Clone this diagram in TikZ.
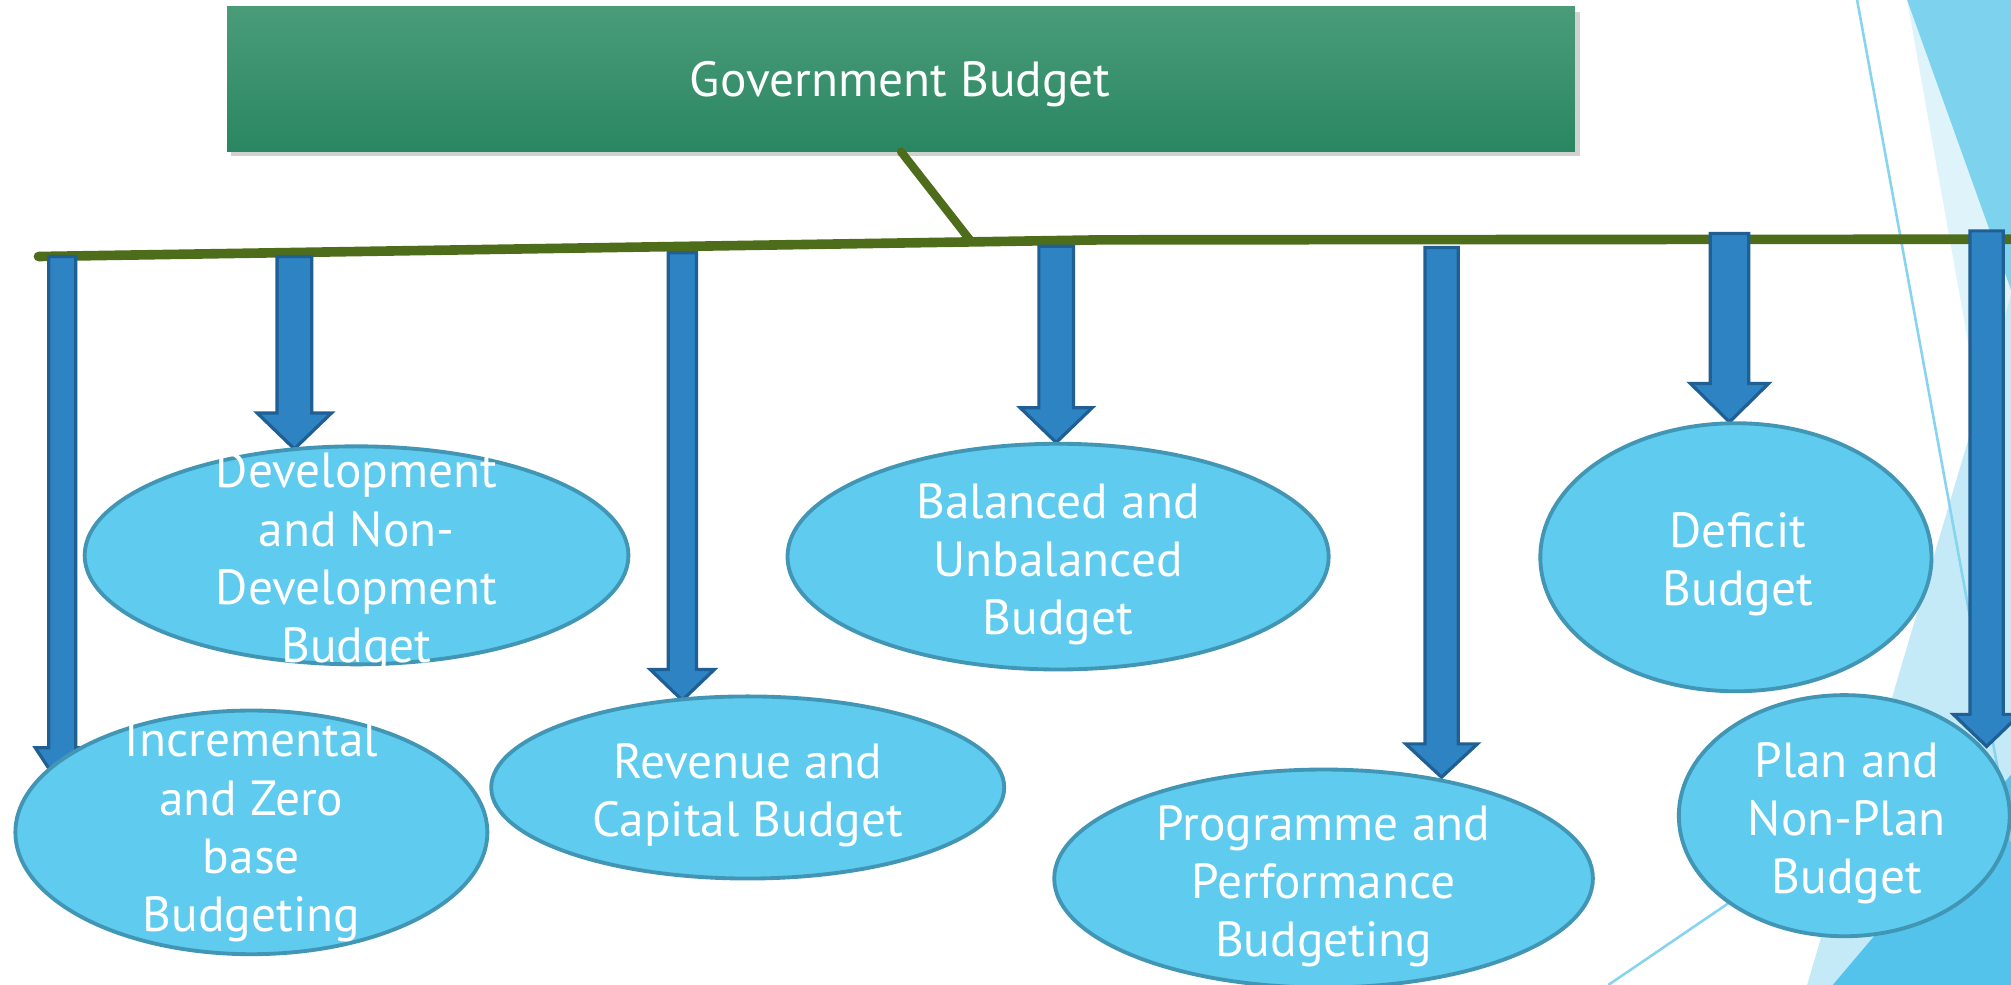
\documentclass[tikz,border=0pt]{standalone}
\usepackage{fontspec}
\setmainfont{PT Sans}
\usetikzlibrary{shapes.geometric}
\definecolor{boxtop}{HTML}{4A9C79}
\definecolor{boxbot}{HTML}{2A8662}
\definecolor{olive}{HTML}{4E6D1B}
\definecolor{arrfill}{HTML}{2E83C3}
\definecolor{arrline}{HTML}{1F5F94}
\definecolor{ellfill}{HTML}{5FCBEE}
\definecolor{ellline}{HTML}{4296B5}
\definecolor{bgpale}{HTML}{DFF3FA}
\definecolor{bgmed}{HTML}{7DD3EE}
\definecolor{bgwedge}{HTML}{C5EAF7}
\definecolor{bgdark}{HTML}{53C3EB}
\definecolor{bgline}{HTML}{86D4EF}
\tikzset{
  busline/.style={draw=olive, line width=7.5pt, line cap=round},
  blockarrow/.style={fill=arrfill, draw=arrline, line width=2.5pt, line join=miter},
  bubble/.style={ellipse, fill=ellfill, draw=ellline, line width=3pt, inner sep=0pt},
  bubbletext/.style={text=white, align=center, inner sep=0pt, font=\fontsize{38.5}{45.5}\selectfont},
  govbox/.style={rectangle, top color=boxtop, bottom color=boxbot, draw=none, inner sep=0pt},
}
\newcommand\barrow[6]{% x, ytop, yhead, ytip, half shaft, half head
  \filldraw[blockarrow] (#1-#5,#2) -- (#1+#5,#2) -- (#1+#5,#3) -- (#1+#6,#3) -- (#1,#4) -- (#1-#6,#3) -- (#1-#5,#3) -- cycle;}
\begin{document}
\begin{tikzpicture}[x=1pt,y=-1pt]
\useasboundingbox (0,0) rectangle (1568,768);
\fill[white] (0,0) rectangle (1568,768);
% background decoration
\fill[bgpale] (1487,0) -- (1568,0) -- (1568,455) -- cycle;
\fill[bgmed] (1487,0) -- (1568,0) -- (1568,226) -- cycle;
\fill[bgwedge] (1409,768) -- (1568,230) -- (1568,768) -- cycle;
\fill[bgdark] (1429,768) -- (1568,604) -- (1568,768) -- cycle;
\draw[bgline, line width=2pt] (1448,0) -- (1568,656);
\draw[bgline, line width=2pt] (1254,768) -- (1420,655);
% title box
\fill[black, opacity=0.18] (180,9) rectangle (1232,122);
\node[govbox, minimum width=1051pt, minimum height=113pt] (gov) at (702.5,61.5) {};
\node[bubbletext] (govtext) at (702,66) {Government Budget};
% bus
\coordinate (busL) at (30,200);
\coordinate (busK) at (860,187);
\coordinate (busR) at (1575,186.5);
\coordinate (busJ) at (757,188);
\draw[olive, line width=6.5pt, line cap=round] (gov.south) -- (busJ);
\draw[busline] (busL) -- (busK) -- (busR);
% arrows
\barrow{48.5}{200}{583}{615}{10.5}{21}
\barrow{229.5}{200}{322}{350}{13.5}{29}
\barrow{532}{197}{522}{546}{11}{25}
\barrow{823.5}{192}{318}{345}{13.5}{28}
\barrow{1124}{193}{580}{606}{13}{28}
\barrow{1348.5}{182}{299}{329}{15}{30.5}
% ellipses
\node[bubble, minimum width=424pt, minimum height=170pt] (dev) at (278,433) {};
\node[bubble, minimum width=422pt, minimum height=176pt] (bal) at (825,434) {};
\node[bubble, minimum width=305pt, minimum height=209pt] (def) at (1353.5,434.5) {};
\node[bubble, minimum width=368pt, minimum height=190pt] (inc) at (196,649) {};
\node[bubble, minimum width=400pt, minimum height=142pt] (rev) at (583,614) {};
\node[bubble, minimum width=420pt, minimum height=170pt] (prog) at (1032,685) {};
\node[bubble, minimum width=258pt, minimum height=188pt] (plan) at (1438,636) {};
\barrow{1549}{180}{557}{582}{13}{26}
% texts
\node[bubbletext] (devt) at (278,439) {Development\\and Non-\\Development\\Budget};
\node[bubbletext] (balt) at (825,440) {Balanced and\\Unbalanced\\Budget};
\node[bubbletext] (deft) at (1355,440) {Deficit\\Budget};
\node[bubbletext] (inct) at (196,649) {Incremental\\and Zero\\base\\Budgeting};
\node[bubbletext] (revt) at (583,620) {Revenue and\\Capital Budget};
\node[bubbletext] (progt) at (1032,691) {Programme and\\Performance\\Budgeting};
\node[bubbletext] (plant) at (1440,642) {Plan and\\Non-Plan\\Budget};
\end{tikzpicture}
\end{document}
